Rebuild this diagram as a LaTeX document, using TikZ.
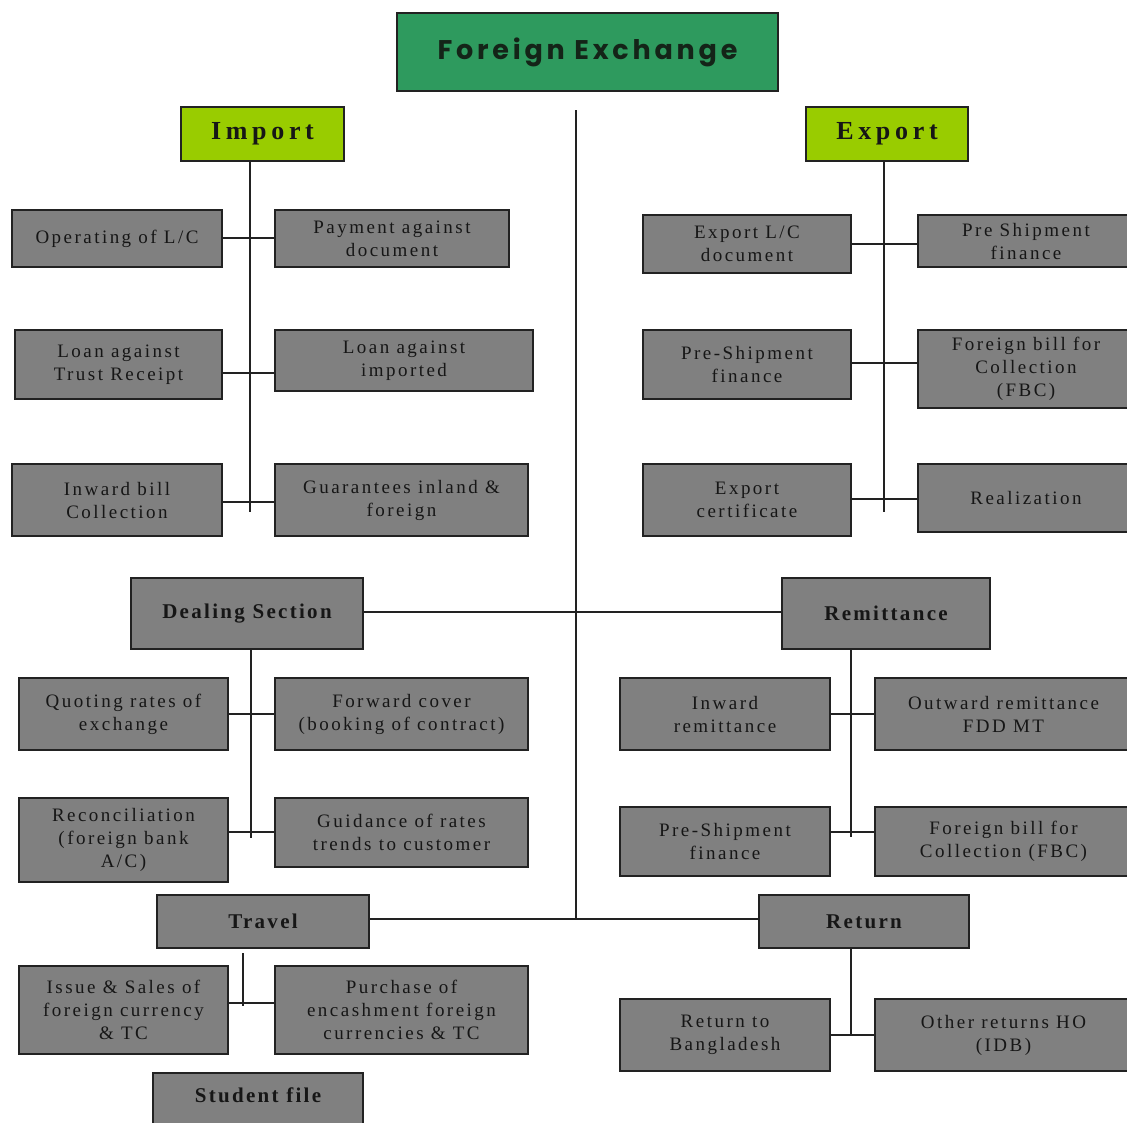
\documentclass[tikz,border=0pt]{standalone}
\usepackage{fontspec}
\setmainfont{Liberation Serif}
\newfontfamily\bxfont{Liberation Serif}[LetterSpace=13]
\newfontfamily\hdfont{Liberation Serif}[LetterSpace=11]
\newfontfamily\bigfont{Liberation Serif}[LetterSpace=18]
\newfontfamily\ttlfont{Poppins}[LetterSpace=14]
\definecolor{boxgray}{RGB}{128,128,128}
\definecolor{linec}{RGB}{34,34,34}
\definecolor{txt}{RGB}{22,22,22}
\definecolor{ttlgreen}{RGB}{46,154,94}
\definecolor{lime}{RGB}{153,204,0}
\newcommand\mkbox[7]{\node[#6, minimum width={#4-#2}, minimum height={#5-#3}] (#1) at ({(#2+#4)/2},{(#3+#5)/2}) {#7};}
\begin{document}
\begin{tikzpicture}[x=1pt,y=-1pt,
  base/.style={draw=linec, line width=2.4pt, align=center, inner sep=0pt, text=txt},
  box/.style={base, fill=boxgray, font=\bxfont\fontsize{19}{23}\selectfont},
  hbox/.style={base, fill=boxgray, font=\hdfont\bfseries\fontsize{21}{24}\selectfont},
  gbox/.style={base, fill=lime, font=\bigfont\bfseries\fontsize{26}{28}\selectfont},
  tbox/.style={base, fill=ttlgreen, text={rgb,255:red,20;green,36;blue,24}, font=\ttlfont\bfseries\fontsize{27}{30}\selectfont},
  conn/.style={draw=linec, line width=2.2pt}]
\clip (0,0) rectangle (1127,1122);
\fill[white] (0,0) rectangle (1127,1122);

% title
\mkbox{fx}{397}{13}{778}{91}{tbox}{Foreign Exchange}
\coordinate (c0) at (576,110);
\coordinate (c1) at (576,919);
\draw[conn] (c0) -- (c1);

% import
\mkbox{imp}{181}{107}{344}{161}{gbox}{Import}
\mkbox{opl}{12}{210}{222}{267}{box}{Operating of L/C}
\mkbox{pay}{275}{210}{509}{267}{box}{Payment against\\document}
\mkbox{ltr}{15}{330}{222}{399}{box}{Loan against\\Trust Receipt}
\mkbox{lim}{275}{330}{533}{391}{box}{Loan against\\imported}
\mkbox{ibc}{12}{464}{222}{536}{box}{Inward bill\\Collection}
\mkbox{gua}{275}{464}{528}{536}{box}{Guarantees inland \&\\foreign}
\coordinate (i1) at (250,238);
\coordinate (i2) at (250,373);
\coordinate (i3) at (250,502);
\coordinate (i4) at (250,512);
\draw[conn] (imp.south -| i4) -- (i4);
\draw[conn] (opl.east |- i1) -- (pay.west |- i1);
\draw[conn] (ltr.east |- i2) -- (lim.west |- i2);
\draw[conn] (ibc.east |- i3) -- (gua.west |- i3);

% export
\mkbox{exp}{806}{107}{968}{161}{gbox}{Export}
\mkbox{elc}{643}{215}{851}{273}{box}{Export L/C\\document}
\mkbox{psf}{918}{215}{1134}{267}{box}{Pre Shipment\\finance}
\mkbox{psh}{643}{330}{851}{399}{box}{Pre-Shipment\\finance}
\mkbox{fbc}{918}{330}{1134}{408}{box}{Foreign bill for\\Collection\\(FBC)}
\mkbox{ecr}{643}{464}{851}{536}{box}{Export\\certificate}
\mkbox{rea}{918}{464}{1134}{532}{box}{Realization}
\coordinate (e1) at (884,244);
\coordinate (e2) at (884,363);
\coordinate (e3) at (884,499);
\coordinate (e4) at (884,512);
\draw[conn] (exp.south -| e4) -- (e4);
\draw[conn] (elc.east |- e1) -- (psf.west |- e1);
\draw[conn] (psh.east |- e2) -- (fbc.west |- e2);
\draw[conn] (ecr.east |- e3) -- (rea.west |- e3);

% dealing
\mkbox{deal}{131}{578}{363}{649}{hbox}{Dealing Section}
\mkbox{quo}{19}{678}{228}{750}{box}{Quoting rates of\\exchange}
\mkbox{fwd}{275}{678}{528}{750}{box}{Forward cover\\(booking of contract)}
\mkbox{rec}{19}{798}{228}{882}{box}{Reconciliation\\(foreign bank\\A/C)}
\mkbox{gui}{275}{798}{528}{867}{box}{Guidance of rates\\trends to customer}
\coordinate (d1) at (251,714);
\coordinate (d2) at (251,832);
\coordinate (d3) at (251,838);
\draw[conn] (deal.south -| d3) -- (d3);
\draw[conn] (quo.east |- d1) -- (fwd.west |- d1);
\draw[conn] (rec.east |- d2) -- (gui.west |- d2);

% remittance
\mkbox{rem}{782}{578}{990}{649}{hbox}{Remittance}
\mkbox{inr}{620}{678}{830}{750}{box}{Inward\\remittance}
\mkbox{out}{875}{678}{1132}{750}{box}{Outward remittance\\FDD MT}
\mkbox{rps}{620}{807}{830}{876}{box}{Pre-Shipment\\finance}
\mkbox{rfb}{875}{807}{1132}{876}{box}{Foreign bill for\\Collection (FBC)}
\coordinate (r1) at (851,714);
\coordinate (r2) at (851,832);
\coordinate (r3) at (851,837);
\draw[conn] (rem.south -| r3) -- (r3);
\draw[conn] (inr.east |- r1) -- (out.west |- r1);
\draw[conn] (rps.east |- r2) -- (rfb.west |- r2);

\coordinate (dr) at (576,612);
\draw[conn] (deal.east |- dr) -- (rem.west |- dr);

% travel
\mkbox{tra}{157}{895}{369}{948}{hbox}{Travel}
\mkbox{iss}{19}{966}{228}{1054}{box}{Issue \& Sales of\\foreign currency\\\& TC}
\mkbox{pur}{275}{966}{528}{1054}{box}{Purchase of\\encashment foreign\\currencies \& TC}
\mkbox{stu}{153}{1073}{363}{1130}{hbox}{\raisebox{12pt}{Student file}}
\coordinate (t0) at (243,953);
\coordinate (t1) at (243,1003);
\coordinate (t2) at (243,1006);
\draw[conn] (t0) -- (t2);
\draw[conn] (iss.east |- t1) -- (pur.west |- t1);

% return
\mkbox{ret}{759}{895}{969}{948}{hbox}{Return}
\mkbox{rtb}{620}{999}{830}{1071}{box}{Return to\\Bangladesh}
\mkbox{oth}{875}{999}{1132}{1071}{box}{Other returns HO\\(IDB)}
\coordinate (u1) at (851,1035);
\draw[conn] (ret.south -| u1) -- (u1);
\draw[conn] (rtb.east |- u1) -- (oth.west |- u1);

\coordinate (tr) at (576,919);
\draw[conn] (tra.east |- tr) -- (ret.west |- tr);
\end{tikzpicture}
\end{document}
